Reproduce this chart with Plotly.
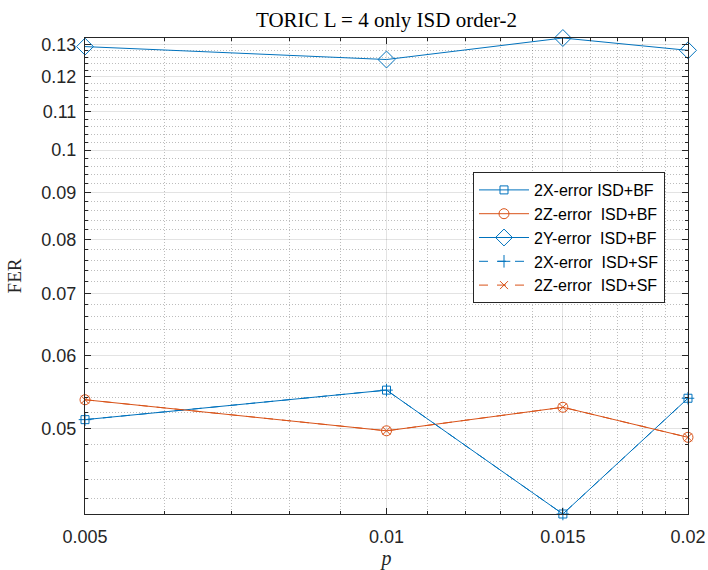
import numpy as np
import plotly.graph_objects as go

# ---------------- data ----------------
p_vals = [0.005, 0.01, 0.015, 0.02]
fer_2x_bf = [0.0511, 0.0550, 0.0404, 0.0539]
fer_2z_bf = [0.0537, 0.0497, 0.0527, 0.0489]
fer_2y_bf = [0.1294, 0.1253, 0.1322, 0.1282]
fer_2x_sf = [0.0511, 0.0550, 0.0404, 0.0539]
fer_2z_sf = [0.0537, 0.0497, 0.0527, 0.0489]

names = ["2X-error ISD+BF", "2Z-error\u00a0 ISD+BF", "2Y-error\u00a0 ISD+BF",
         "2X-error\u00a0 ISD+SF", "2Z-error\u00a0 ISD+SF"]

x_tickvals = [0.005, 0.01, 0.015, 0.02]
x_ticktext = ["0.005", "0.01", "0.015", "0.02"]
y_tickvals = [0.05, 0.06, 0.07, 0.08, 0.09, 0.1, 0.11, 0.12, 0.13]
y_ticktext = ["0.05", "0.06", "0.07", "0.08", "0.09", "0.1", "0.11", "0.12", "0.13"]
x_minor = [0.006, 0.007, 0.008, 0.009, 0.011, 0.012, 0.013, 0.014,
           0.016, 0.017, 0.018, 0.019]
y_minor = [0.042, 0.044, 0.046, 0.048, 0.052, 0.054, 0.056, 0.058,
           0.062, 0.064, 0.066, 0.068, 0.072, 0.074, 0.076, 0.078,
           0.082, 0.084, 0.086, 0.088, 0.092, 0.094, 0.096, 0.098,
           0.102, 0.104, 0.106, 0.108, 0.112, 0.114, 0.116, 0.118,
           0.122, 0.124, 0.126, 0.128]

BLUE = "#0072BD"
ORANGE = "#D95319"
AX = "#262626"

fig = go.Figure()

series = [
    (fer_2x_bf, names[0], BLUE, "solid", "square-open", 8),
    (fer_2z_bf, names[1], ORANGE, "solid", "circle-open", 10),
    (fer_2y_bf, names[2], BLUE, "solid", "diamond-open", 13),
    (fer_2x_sf, names[3], BLUE, "dash", "cross-thin-open", 9),
    (fer_2z_sf, names[4], ORANGE, "dash", "x-thin-open", 8),
]
for vals, nm, col, dash, sym, sz in series:
    fig.add_trace(go.Scatter(
        x=p_vals, y=vals, name=nm, mode="lines+markers",
        line=dict(color=col, width=1, dash=dash),
        marker=dict(symbol=sym, size=sz, color=col, line=dict(color=col, width=1)),
        cliponaxis=False,
    ))

all_y = fer_2x_bf + fer_2z_bf + fer_2y_bf
ymin, ymax = min(all_y), max(all_y)
eps = 1e-5

axis_common = dict(
    showline=True, linecolor=AX, linewidth=1, mirror="allticks",
    ticks="inside", ticklen=6, tickcolor=AX, tickwidth=1,
    showgrid=True, gridcolor="rgba(38,38,38,0.13)", gridwidth=1,
    zeroline=False,
    tickfont=dict(family="Liberation Sans, Arial, sans-serif", size=18, color=AX),
)
minor_common = dict(tickmode="array", ticks="inside", ticklen=3, tickcolor=AX,
                    showgrid=True, griddash="1px,2px",
                    gridcolor="rgba(38,38,38,0.3)", gridwidth=1)

fig.update_xaxes(
    type="log", range=[np.log10(p_vals[0]) - eps, np.log10(p_vals[-1]) + eps],
    tickmode="array", tickvals=x_tickvals, ticktext=x_ticktext,
    minor=dict(tickvals=x_minor, **minor_common),
    ticklabelstandoff=6,
    title=dict(text="<i>p</i>", font=dict(family="Liberation Serif, serif", size=20, color=AX),
               standoff=8),
    automargin=False,
    **axis_common,
)
fig.update_yaxes(
    type="log", range=[np.log10(ymin) - eps, np.log10(ymax) + eps],
    tickmode="array", tickvals=y_tickvals, ticktext=y_ticktext,
    minor=dict(tickvals=y_minor, **minor_common),
    ticklabelstandoff=4,
    title=dict(text="FER", font=dict(family="Liberation Serif, serif", size=19, color=AX),
               standoff=14),
    automargin=False,
    **axis_common,
)

fig.update_layout(
    width=708, height=570,
    margin=dict(l=85, r=20, t=38, b=56),
    paper_bgcolor="white", plot_bgcolor="white",
    font=dict(family="Liberation Sans, Arial, sans-serif", color=AX),
    title=dict(text="TORIC L = 4 only ISD order-2",
               font=dict(family="Liberation Serif, serif", size=21, color="black"),
               x=0.5, xref="paper", xanchor="center",
               y=1 - 20 / 570, yref="container", yanchor="middle"),
    legend=dict(
        x=(473 - 85) / 603, y=(514 - 172) / 476, xanchor="left", yanchor="top",
        bgcolor="white", bordercolor=AX, borderwidth=1,
        font=dict(family="Liberation Sans, Arial, sans-serif", size=16, color="black"),
        tracegroupgap=0, itemwidth=50,
    ),
    showlegend=True,
)

fig.write_html("out.html")
